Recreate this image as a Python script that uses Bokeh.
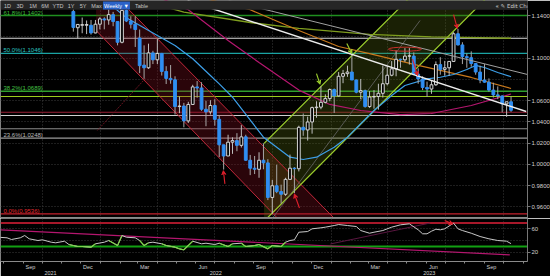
import numpy as np
import pandas as pd
from bokeh.plotting import figure
from bokeh.layouts import column
from bokeh.models import (Range1d, FixedTicker, Label, BoxAnnotation, Span,
                          Arrow, VeeHead, ColumnDataSource, NumeralTickFormatter)
from bokeh.embed import file_html
from bokeh.resources import INLINE

# ---------------- data ----------------
FIRST_WEEK = "2021-11-19"          # Friday of the first visible weekly bar
opens = [
    1.1440, 1.1287, 1.1310, 1.1310, 1.1310, 1.1238, 1.1320, 1.1370, 1.1360, 1.1410,
    1.1345, 1.1150, 1.1450, 1.1350, 1.1320, 1.1190, 1.0935, 1.0910, 1.1050, 1.0985,
    1.1045, 1.0876, 1.0810, 1.0797, 1.0545, 1.0550, 1.0410, 1.0565, 1.0730, 1.0720,
    1.0520, 1.0495, 1.0555, 1.0425, 1.0185, 1.0080, 1.0210, 1.0225, 1.0180, 1.0260,
    1.0040, 0.9965, 0.9955, 1.0040, 1.0015, 0.9690, 0.9800, 0.9745, 0.9720, 0.9860,
    0.9965, 0.9960, 1.0350, 1.0325, 1.0400, 1.0535, 1.0540, 1.0585, 1.0620, 1.0705,
    1.0645, 1.0830, 1.0855, 1.0870, 1.0795, 1.0680, 1.0695, 1.0545, 1.0635, 1.0640,
    1.0670, 1.0760, 1.0840, 1.0900, 1.0990, 1.0985, 1.1020, 1.1020, 1.0850, 1.0805,
    1.0725, 1.0710, 1.0750, 1.0940, 1.0895, 1.0910, 1.0970, 1.1230, 1.1125, 1.1015,
    1.1005, 1.0950, 1.0870, 1.0795, 1.0775, 1.0700, 1.0655, 1.0645, 1.0570, 1.0590]
highs = [
    1.1464, 1.1320, 1.1383, 1.1355, 1.1360, 1.1360, 1.1386, 1.1385, 1.1483, 1.1436,
    1.1345, 1.1483, 1.1495, 1.1395, 1.1395, 1.1270, 1.1121, 1.1137, 1.1070, 1.1185,
    1.1050, 1.0925, 1.0936, 1.0830, 1.0640, 1.0580, 1.0590, 1.0750, 1.0785, 1.0774,
    1.0600, 1.0605, 1.0615, 1.0460, 1.0185, 1.0280, 1.0255, 1.0295, 1.0370, 1.0280,
    1.0090, 1.0080, 1.0115, 1.0200, 1.0050, 0.9855, 0.9998, 0.9810, 0.9875, 1.0093,
    0.9975, 1.0365, 1.0480, 1.0450, 1.0545, 1.0595, 1.0735, 1.0660, 1.0715, 1.0715,
    1.0870, 1.0890, 1.0930, 1.1033, 1.0800, 1.0805, 1.0705, 1.0690, 1.0700, 1.0760,
    1.0930, 1.0925, 1.0973, 1.1075, 1.0995, 1.1095, 1.1095, 1.1055, 1.0905, 1.0830,
    1.0780, 1.0790, 1.0970, 1.1010, 1.0975, 1.0970, 1.1245, 1.1276, 1.1150, 1.1045,
    1.1065, 1.0955, 1.0930, 1.0945, 1.0810, 1.0770, 1.0735, 1.0650, 1.0590, 1.0640]
lows = [
    1.1250, 1.1186, 1.1235, 1.1227, 1.1222, 1.1234, 1.1271, 1.1272, 1.1315, 1.1301,
    1.1121, 1.1140, 1.1340, 1.1280, 1.1106, 1.0860, 1.0806, 1.0900, 1.0945, 1.0945,
    1.0837, 1.0757, 1.0760, 1.0470, 1.0483, 1.0350, 1.0390, 1.0560, 1.0628, 1.0505,
    1.0360, 1.0470, 1.0365, 1.0070, 0.9952, 1.0080, 1.0100, 1.0125, 1.0160, 1.0035,
    0.9900, 0.9910, 0.9875, 0.9955, 0.9665, 0.9536, 0.9730, 0.9632, 0.9705, 0.9860,
    0.9730, 0.9935, 1.0270, 1.0225, 1.0290, 1.0440, 1.0520, 1.0575, 1.0595, 1.0485,
    1.0640, 1.0765, 1.0825, 1.0795, 1.0670, 1.0615, 1.0535, 1.0533, 1.0525, 1.0516,
    1.0630, 1.0745, 1.0830, 1.0830, 1.0910, 1.0965, 1.0940, 1.0845, 1.0760, 1.0700,
    1.0635, 1.0665, 1.0740, 1.0845, 1.0835, 1.0835, 1.0965, 1.1120, 1.0945, 1.0910,
    1.0920, 1.0845, 1.0765, 1.0770, 1.0685, 1.0630, 1.0615, 1.0490, 1.0448, 1.0495]
closes = [
    1.1290, 1.1318, 1.1316, 1.1317, 1.1238, 1.1320, 1.1370, 1.1360, 1.1410, 1.1345,
    1.1150, 1.1450, 1.1350, 1.1320, 1.1270, 1.0930, 1.0910, 1.1050, 1.0985, 1.1045,
    1.0876, 1.0810, 1.0797, 1.0545, 1.0550, 1.0410, 1.0565, 1.0730, 1.0720, 1.0520,
    1.0495, 1.0555, 1.0425, 1.0185, 1.0080, 1.0210, 1.0225, 1.0180, 1.0260, 1.0040,
    0.9965, 0.9955, 1.0040, 1.0015, 0.9690, 0.9800, 0.9745, 0.9720, 0.9860, 0.9965,
    0.9960, 1.0350, 1.0325, 1.0400, 1.0535, 1.0540, 1.0585, 1.0620, 1.0705, 1.0645,
    1.0830, 1.0855, 1.0870, 1.0795, 1.0680, 1.0695, 1.0545, 1.0635, 1.0640, 1.0670,
    1.0760, 1.0840, 1.0900, 1.0990, 1.0985, 1.1020, 1.1022, 1.0850, 1.0805, 1.0725,
    1.0710, 1.0750, 1.0940, 1.0895, 1.0910, 1.0970, 1.1230, 1.1125, 1.1015, 1.1005,
    1.0950, 1.0870, 1.0795, 1.0775, 1.0700, 1.0655, 1.0645, 1.0570, 1.0590, 1.0510]

# moving averages (week offset from first bar, value)
ma20_weeks = [8, 12, 19, 23, 27, 31, 33, 36, 43, 49, 52, 55, 59, 62, 65, 68, 72, 75, 80, 83, 86, 89, 91, 93, 96, 99]
ma20_vals = [1.1520, 1.1380, 1.1214, 1.1120, 1.0995, 1.0837, 1.0759, 1.0633, 1.0257, 1.0069, 1.0047, 1.0069,
             1.0163, 1.0257, 1.0383, 1.0508, 1.0649, 1.0743, 1.0806, 1.0821, 1.0847, 1.0894, 1.0932, 1.0913,
             1.0866, 1.0826]
ma50_weeks = [20, 26, 35, 42, 51, 58, 65, 74, 81, 90, 99]
ma50_vals = [1.1560, 1.1456, 1.1167, 1.0960, 1.0700, 1.0565, 1.0508, 1.0470, 1.0480, 1.0555, 1.0663]
ma100_weeks = [30, 40, 51, 60, 67, 78, 90, 99]
ma100_vals = [1.1560, 1.1456, 1.1261, 1.1110, 1.1044, 1.0932, 1.0819, 1.0715]
ma200_weeks = [18, 25, 40, 51, 67, 81, 99]
ma200_vals = [1.1515, 1.1433, 1.1336, 1.1280, 1.1225, 1.1200, 1.1188]

# RSI (week offset from first bar, value)
rsi_weeks = [-17, -15, -14, -12, -11, -10, -8, -7, -5, -4, -2, -1, 1, 2, 4, 5, 7, 8, 10, 11, 12, 14, 15, 16,
             17, 18, 20, 21, 23, 24, 25, 27, 29, 30, 32, 33, 35, 36, 38, 39, 41, 42, 44, 45, 47, 48, 49, 50,
             51, 53, 54, 56, 57, 59, 60, 62, 64, 65, 67, 68, 70, 72, 74, 76, 78, 79, 80, 81, 82, 83, 84, 86,
             87, 88, 90, 92, 94, 96, 98, 99]
rsi_values = [45.8, 44.8, 41.9, 44.8, 48.7, 43.1, 40.2, 41.4, 37.3, 36.3, 39.0, 33.4, 30.0, 30.0, 28.8, 34.6,
              37.3, 40.2, 31.7, 48.7, 45.8, 44.8, 40.2, 31.7, 36.3, 37.3, 34.6, 31.7, 28.8, 26.0, 24.4, 39.0,
              34.6, 35.6, 33.4, 35.6, 30.0, 34.6, 35.6, 30.0, 31.7, 33.4, 26.0, 31.7, 30.0, 37.3, 40.2, 41.4,
              54.3, 55.5, 60.1, 61.8, 62.9, 65.7, 67.4, 65.7, 64.0, 57.2, 52.6, 54.3, 57.2, 62.9, 66.9, 68.6,
              58.4, 51.6, 51.6, 56.0, 59.4, 58.4, 60.1, 69.7, 60.1, 57.2, 52.6, 47.0, 43.1, 40.2, 39.0, 34.8855]

fib_levels = [1.1402, 1.1046, 1.0689, 1.0248, 0.9536]
fib_names = ["61.8%", "50.0%", "38.2%", "23.6%", "0.0%"]
fib_colors = ["#1f8f1f", "#1aa3a3", "#2f9f2f", "#9a9a9a", "#c4202c"]
fib_text_colors = ["#3cbc3c", "#2cc4c4", "#45c445", "#b8b8b8", "#e02a30"]
hline_levels = [1.1188, 1.0640, 1.0492, 1.0461, 1.0336]
hline_colors = ["#d8d8d8", "#9ccc1c", "#9a1e36", "#cfcfcf", "#8a8a8a"]
price_ticks = [0.96, 0.98, 1.00, 1.02, 1.04, 1.06, 1.10, 1.14]
price_grid = [0.96, 0.98, 1.00, 1.02, 1.04, 1.06, 1.08, 1.10, 1.12, 1.14]
rsi_ticks = [20, 60]
rsi_grid = [20, 40, 60]
rsi_upper, rsi_lower = 70, 30
month_names = ["Sep", "Dec", "Mar", "Jun", "Sep", "Dec", "Mar", "Jun", "Sep"]
month_label_dates = ["2021-09-12", "2021-12-12", "2022-03-12", "2022-06-12", "2022-09-12",
                     "2022-12-12", "2023-03-12", "2023-06-12", "2023-09-12"]
years = [2021, 2022, 2023]

# drawn objects (dates, prices)
red_channel_dates = ["2021-12-25", "2021-12-25", "2022-10-27", "2023-01-25", "2022-01-16"]
red_channel_prices = [1.1637, 1.1261, 0.9379, 0.9379, 1.1637]
green_channel_dates = ["2022-09-17", "2022-09-17", "2023-09-16", "2023-05-17"]
green_channel_prices = [1.0198, 0.9466, 1.1637, 1.1637]
white_line_dates = ["2022-05-19", "2023-11-06"]
white_line_prices = [1.1543, 1.0499]
gray_line_dates = ["2022-07-23", "2023-11-08"]
gray_line_prices = [1.1543, 1.0847]
thin_line_dates = ["2022-09-30", "2023-05-22"]
thin_line_prices = [0.9492, 1.1355]
faint_red_dates = ["2022-03-13", "2021-12-27"]
faint_red_prices = [1.0809, 1.0320]
rsi_trend_dates = ["2021-07-27", "2023-10-11"]
rsi_trend_values = [58.4, 15.9]
rsi_rise_dates = ["2022-12-31", "2023-06-07"]
rsi_rise_values = [34.3, 70.0]

# ---------------- layout constants ----------------
FONT = "Liberation Sans"
FRAME_W, MAIN_H, RSI_H = 527, 218, 43
PX_PER_DAY = 0.6316
DAY = 86400000.0
PX_PER_PRICE = 1062.7
PX_PER_RSI = 0.5875


def ms(d):
    return pd.Timestamp(d).value / 1e6


x_start = ms("2022-01-01") - 100 / PX_PER_DAY * DAY
x_end = x_start + FRAME_W / PX_PER_DAY * DAY
xr = Range1d(x_start, x_end)
p_top = 1.1402 + 15 / PX_PER_PRICE
p_bot = p_top - MAIN_H / PX_PER_PRICE
r_top = 70 + 4.5 / PX_PER_RSI
r_bot = r_top - RSI_H / PX_PER_RSI


def price_at(px):
    return p_top - px / PX_PER_PRICE


first = pd.Timestamp(FIRST_WEEK)
dates = [first + pd.Timedelta(days=7 * i) for i in range(len(closes))]
dms = [ms(d) for d in dates]


def wk(weeks):
    return [ms(first + pd.Timedelta(days=7 * w)) for w in weeks]


quarter_ms = [ms(d) for d in ["2021-10-01", "2022-01-01", "2022-04-01", "2022-07-01", "2022-10-01",
                              "2023-01-01", "2023-04-01", "2023-07-01", "2023-10-01"]]

# ---------------- main price panel ----------------
p = figure(frame_width=FRAME_W, frame_height=MAIN_H, x_range=xr, y_range=Range1d(p_bot, p_top),
           x_axis_type="datetime", x_axis_location=None, y_axis_location="right",
           output_backend="svg", toolbar_location=None, min_border=0, min_border_right=23,
           background_fill_color="#000000", border_fill_color="#000000", outline_line_color=None)

ya = p.yaxis[0]
ya.ticker = FixedTicker(ticks=price_ticks)
ya.formatter = NumeralTickFormatter(format="0.0000")
ya.major_label_text_font = FONT
ya.major_label_text_font_size = "6px"
ya.major_label_text_color = "#d0d0d0"
ya.major_tick_out = 3
ya.major_tick_in = 0
ya.minor_tick_line_color = None
ya.axis_line_color = "#777777"
ya.major_tick_line_color = "#777777"
ya.major_label_standoff = 1

p.ygrid.ticker = FixedTicker(ticks=price_grid)
p.xgrid.ticker = FixedTicker(ticks=quarter_ms)
for g in (p.xgrid, p.ygrid):
    g.grid_line_color = "#3c3c3c"
    g.grid_line_dash = "1 2"

# channels
p.patch([ms(d) for d in red_channel_dates], red_channel_prices, fill_color="#8a1020", fill_alpha=0.30,
        line_color=None)
p.patch([ms(d) for d in green_channel_dates], green_channel_prices, fill_color="#566a10", fill_alpha=0.30,
        line_color=None)

# horizontal levels
for lvl, col, name, tcol in zip(fib_levels, fib_colors, fib_names, fib_text_colors):
    p.add_layout(Span(location=lvl, dimension="width", line_color=col, line_width=1.3, level="underlay"))
    p.add_layout(Label(x=3, x_units="screen", y=lvl, text=f"{name}({lvl:.4f})", text_font=FONT,
                       text_font_size="6px", text_color=tcol, text_baseline="bottom"))
for lvl, col in zip(hline_levels, hline_colors):
    p.add_layout(Span(location=lvl, dimension="width", line_color=col, line_width=1.1, level="underlay"))

# channel border lines
rcx = [ms(d) for d in red_channel_dates]
p.line([rcx[1], rcx[2]], [red_channel_prices[1], red_channel_prices[2]], line_color="#c0283a", line_width=1)
p.line([rcx[4], rcx[3]], [red_channel_prices[4], red_channel_prices[3]], line_color="#c0283a", line_width=1)
p.line([ms(d) for d in faint_red_dates], faint_red_prices, line_color="#6a1420", line_width=1, line_dash="2 1")
gcx = [ms(d) for d in green_channel_dates]
p.line([gcx[0], gcx[3]], [green_channel_prices[0], green_channel_prices[3]], line_color="#9fd22e", line_width=1.2)
p.line([gcx[1], gcx[2]], [green_channel_prices[1], green_channel_prices[2]], line_color="#9fd22e", line_width=1.2)
p.line([ms(d) for d in thin_line_dates], thin_line_prices, line_color="#6a6a6a", line_width=0.8)

# moving averages
p.line(wk(ma200_weeks), ma200_vals, line_color="#7f9e1e", line_width=1.3)
p.line(wk(ma100_weeks), ma100_vals, line_color="#c8781c", line_width=1.2)
p.line(wk(ma50_weeks), ma50_vals, line_color="#b5166f", line_width=1.2)
p.line(wk(ma20_weeks), ma20_vals, line_color="#3d9fe8", line_width=1.2)

# candles
up = [c >= o for o, c in zip(opens, closes)]
W = 2.8 / PX_PER_DAY * DAY
def sel(flag):
    idx = [i for i in range(len(closes)) if up[i] == flag]
    return ColumnDataSource(dict(x=[dms[i] for i in idx], hi=[highs[i] for i in idx], lo=[lows[i] for i in idx],
                                 top=[max(opens[i], closes[i]) for i in idx],
                                 bot=[min(opens[i], closes[i]) for i in idx]))
s_up, s_dn = sel(True), sel(False)
p.segment(x0="x", y0="hi", x1="x", y1="lo", source=s_up, line_color="#bdbdbd", line_width=1)
p.segment(x0="x", y0="hi", x1="x", y1="lo", source=s_dn, line_color="#a8a8a8", line_width=1)
p.vbar(x="x", width=W, top="top", bottom="bot", source=s_up, fill_color="#000000", line_color="#d6d6d6",
       line_width=1)
p.vbar(x="x", width=W, top="top", bottom="bot", source=s_dn, fill_color="#2f8ef2", line_color="#2f8ef2",
       line_width=1)

# trend lines over candles
p.line([ms(d) for d in gray_line_dates], gray_line_prices, line_color="#a0a0a0", line_width=1)
wlx = [ms(d) for d in white_line_dates]
p.line(wlx, white_line_prices, line_color="#ececec", line_width=1.4)

# ellipse around the spring-2023 highs
p.ellipse(x=[dms[75]], y=[highs[75] - 0.001], width=[33 / PX_PER_DAY * DAY], height=[0.0038],
          fill_color=None, line_color="#c8302c", line_width=1)

# arrows
RED = "#e0202c"
LIME = "#9fd22e"
def arrow(x0, y0, x1, y1, col):
    p.add_layout(Arrow(end=VeeHead(size=4, line_color=col, fill_color=col, line_width=1),
                       x_start=x0, y_start=y0, x_end=x1, y_end=y1, line_color=col, line_width=1.1))
arrow(dms[34] + 2 * DAY, lows[34] - 0.0135, dms[34] - 0.5 * DAY, lows[34] - 0.001, RED)
arrow(dms[50] + 8 * DAY, lows[50] - 0.014, dms[50], lows[50] - 0.0008, RED)
w_at = float(np.interp(dms[78], wlx, white_line_prices))
arrow(dms[78] - 9 * DAY, w_at + 0.016, dms[78] - 1 * DAY, w_at + 0.0005, RED)
arrow(dms[87] - 7 * DAY, highs[87] + 0.0135, dms[87] - 1 * DAY, highs[87] + 0.0005, RED)
arrow(dms[56] - 7 * DAY, highs[56] + 0.012, dms[56] - 1.5 * DAY, highs[56] + 0.002, LIME)
arrow(dms[63] - 8 * DAY, highs[63] + 0.0105, dms[63], highs[63] + 0.001, LIME)

# panel separator
p.add_layout(Span(location=price_at(217.3), dimension="width", line_color="#8c8c8c", line_width=1.6))

# top button bar
p.add_layout(BoxAnnotation(bottom=price_at(9.3), top=p_top, left=0, right=560, left_units="screen",
                           right_units="screen", fill_color="#262626", fill_alpha=1, line_color=None))
ybar = price_at(5)
for txt, xc in [("1D", 7), ("3D", 19.5), ("1M", 32.5), ("6M", 44.5), ("YTD", 57.5), ("1Y", 70.5),
                ("5Y", 82.5), ("Max", 96), ("Table", 141)]:
    p.add_layout(Label(x=xc, x_units="screen", y=ybar, text=txt, text_font=FONT, text_font_size="5.5px",
                       text_color="#c4c4c4", text_align="center", text_baseline="middle"))
p.add_layout(Label(x=116, x_units="screen", y=ybar, text="Weekly \u25BC", text_font=FONT,
                   text_font_size="5.5px", text_color="#ffffff", text_align="center", text_baseline="middle",
                   background_fill_color="#2b62c8", background_fill_alpha=1, padding=1))
p.add_layout(Label(x=494, x_units="screen", y=ybar, text="\u00AB  \u270E Edit Chart  \u2922 \u2699",
                   text_font="DejaVu Sans", text_font_size="5.5px", text_color="#d0d0d0",
                   text_align="left", text_baseline="middle", background_fill_color="#262626",
                   background_fill_alpha=1, padding=1))

# value tags on the price axis
def tag(fig, y, text, bg, fg, border=None):
    fig.add_layout(Label(x=FRAME_W + 1, x_units="screen", y=y, text=text, text_font=FONT,
                         text_font_size="6px", text_color=fg, background_fill_color=bg,
                         background_fill_alpha=1, border_line_color=border, text_align="left",
                         text_baseline="middle", padding=1))
tag(p, ma200_vals[-1], f"{ma200_vals[-1]:.4f}", "#f2f2f2", "#000000", LIME)
tag(p, ma20_vals[-1], f"{ma20_vals[-1]:.4f}", "#5fb4f2", "#000000")
tag(p, ma100_vals[-1], f"{ma100_vals[-1]:.4f}", "#e08a1c", "#000000")
tag(p, ma50_vals[-1], f"{ma50_vals[-1]:.4f}", "#e3168f", "#ffffff")
tag(p, closes[-1], f"{closes[-1]:.4f}", "#f4f4f4", "#000000")

# ---------------- RSI panel ----------------
r = figure(frame_width=FRAME_W, frame_height=RSI_H, x_range=xr, y_range=Range1d(r_bot, r_top),
           x_axis_type="datetime", y_axis_location="right", output_backend="svg", toolbar_location=None,
           min_border=0, min_border_right=23, min_border_bottom=14,
           background_fill_color="#000000", border_fill_color="#000000", outline_line_color=None)

ry = r.yaxis[0]
ry.ticker = FixedTicker(ticks=rsi_ticks)
ry.formatter = NumeralTickFormatter(format="0")
ry.major_label_text_font = FONT
ry.major_label_text_font_size = "6px"
ry.major_label_text_color = "#d0d0d0"
ry.major_tick_out = 3
ry.major_tick_in = 0
ry.minor_tick_line_color = None
ry.axis_line_color = "#777777"
ry.major_tick_line_color = "#777777"
ry.major_label_standoff = 1

# month labels plus year labels (second text line) centred on the visible part of each year
month_ms = [ms(d) for d in month_label_dates]
year_ms = []
for y in years:
    a = max(ms(f"{y}-01-01"), x_start)
    b = min(ms(f"{y + 1}-01-01"), x_end)
    year_ms.append((a + b) / 2)
overrides = {t: n for t, n in zip(month_ms, month_names)}
overrides.update({t: " \n" + str(y) for t, y in zip(year_ms, years)})
month_starts = [ms(d) for d in pd.date_range("2021-08-01", "2023-11-01", freq="MS")]
rx = r.xaxis[0]
rx.ticker = FixedTicker(ticks=month_ms + year_ms, minor_ticks=month_starts)
rx.major_label_overrides = overrides
rx.major_tick_line_color = None
rx.major_tick_out = 0
rx.minor_tick_out = 2
rx.minor_tick_in = 0
rx.minor_tick_line_color = "#8a8a8a"
rx.axis_line_color = "#8a8a8a"
rx.major_label_standoff = 0
rx.major_label_text_font = FONT
rx.major_label_text_font_size = "5.5px"
rx.major_label_text_color = "#d0d0d0"
rx.major_label_text_line_height = 1.1

r.ygrid.ticker = FixedTicker(ticks=rsi_grid)
r.xgrid.ticker = FixedTicker(ticks=quarter_ms)
for g in (r.xgrid, r.ygrid):
    g.grid_line_color = "#3c3c3c"
    g.grid_line_dash = "1 2"

r.add_layout(Span(location=rsi_upper, dimension="width", line_color="#a8182a", line_width=2.2, level="underlay"))
r.add_layout(Span(location=rsi_lower, dimension="width", line_color="#12a012", line_width=2.2, level="underlay"))
r.line([ms(d) for d in rsi_trend_dates], rsi_trend_values, line_color="#b5166f", line_width=1.2)
r.line([ms(d) for d in rsi_rise_dates], rsi_rise_values, line_color="#5a1640", line_width=1)

rsi_x = wk(rsi_weeks)
r.line(rsi_x, rsi_values, line_color="#c8c8c8", line_width=1)
gx0, gy0, gx1, gy1 = [], [], [], []
for k in range(len(rsi_values) - 1):
    if min(rsi_values[k], rsi_values[k + 1]) < 32:
        gx0.append(rsi_x[k]); gy0.append(rsi_values[k]); gx1.append(rsi_x[k + 1]); gy1.append(rsi_values[k + 1])
r.segment(gx0, gy0, gx1, gy1, line_color="#7fd04a", line_width=1.2)

pk = rsi_weeks.index(86)
r.add_layout(Arrow(end=VeeHead(size=4, line_color=RED, fill_color=RED), line_color=RED, line_width=1.1,
                   x_start=rsi_x[pk] - 14 * DAY, y_start=rsi_values[pk] + 4.5,
                   x_end=rsi_x[pk] - 1 * DAY, y_end=rsi_values[pk] - 1.5))
tag(r, rsi_values[-1], f"{rsi_values[-1]:.4f}", "#f4f4f4", "#000000")

layout = column(p, r, spacing=0)
open("out.html", "w").write(file_html(layout, INLINE))
